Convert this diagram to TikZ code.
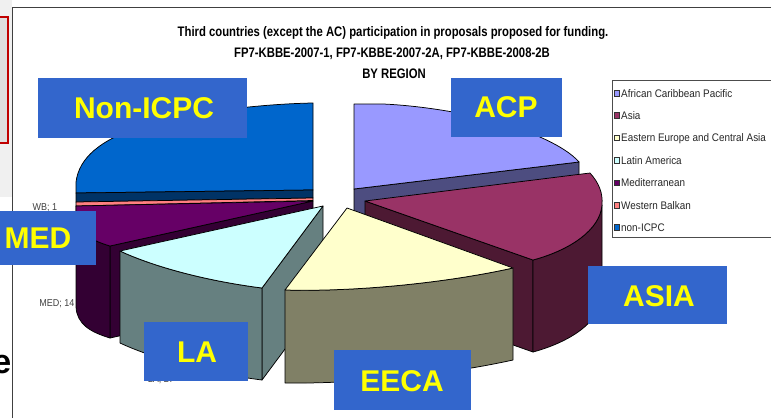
\documentclass[tikz,border=0pt]{standalone}
\usepackage{fontspec}
\setmainfont{Liberation Sans}
\newfontfamily\titlefont[FakeStretch=0.82]{Liberation Sans}
\newfontfamily\legfont[FakeStretch=0.9]{Liberation Sans}
\definecolor{lblblue}{HTML}{3366CC}
\definecolor{lblyellow}{HTML}{FFFF00}
\definecolor{acptop}{HTML}{9999FF}
\definecolor{acpside}{HTML}{4D4D80}
\definecolor{asiatop}{HTML}{993366}
\definecolor{asiaside}{HTML}{4D1933}
\definecolor{eecatop}{HTML}{FFFFCC}
\definecolor{eecaside}{HTML}{808066}
\definecolor{latop}{HTML}{CCFFFF}
\definecolor{laside}{HTML}{668080}
\definecolor{medtop}{HTML}{660066}
\definecolor{medside}{HTML}{330033}
\definecolor{wbtop}{HTML}{FF8080}
\definecolor{nontop}{HTML}{0066CC}
\definecolor{nonside}{HTML}{003366}
\definecolor{redframe}{HTML}{C00000}
\tikzset{
  face/.style={draw=black, line width=0.75pt, line join=round, fill=#1},
  lblbox/.style={fill=lblblue},
  lbltext/.style={text=lblyellow, font=\bfseries\fontsize{30}{30}\selectfont, inner sep=0pt},
  legtext/.style={font=\legfont\fontsize{11}{11}\selectfont, text=black!85, anchor=base west, inner sep=0pt},
  legmark/.style={draw=black!80, line width=0.5pt, fill=#1, minimum size=5.5pt, inner sep=0pt},
  datalbl/.style={font=\legfont\fontsize{10}{10}\selectfont, text=black!75, inner sep=0pt},
  titletext/.style={font=\titlefont\bfseries\fontsize{13.8}{14}\selectfont, anchor=base, inner sep=0pt},
}
\begin{document}
\begin{tikzpicture}[x=1pt,y=-1pt]
\useasboundingbox (0,0) rectangle (771,418);
\clip (0,0) rectangle (771,418);
% background pieces on the left
\fill[gray!12] (0,0) rectangle (12,197);
\draw[redframe, line width=2.5pt, fill=gray!25] (-6,17) rectangle (8,143);
\node[font=\bfseries\fontsize{34}{34}\selectfont, anchor=base east, inner sep=0pt] (frag) at (11.5,373) {e};
% chart frame
\draw[black!75, line width=1pt] (12,418) -- (12,7) -- (771,7);
% title
\node[titletext] (t1) at (393,36.5) {Third countries (except the AC) participation in proposals proposed for funding.};
\node[titletext] (t2) at (392,57.5) {FP7-KBBE-2007-1, FP7-KBBE-2007-2A, FP7-KBBE-2008-2B};
\node[titletext] (t3) at (394,78.5) {BY REGION};
% non-ICPC
\path[face=nontop] (313,103) -- (313,190) -- (76,193) -- (76,182) .. controls (79,158) and (100,140) .. (140,127) .. controls (190,112) and (260,104) .. (313,103) -- cycle;
\path[face=nonside] (76,193) -- (313,190) -- (313,198) -- (76,202) -- cycle;
% Western Balkan
\path[face=wbtop] (76,202) -- (313,198) -- (313,200.5) -- (76,206) -- cycle;
% Mediterranean
\path[face=medside] (110,246) -- (313,201) -- (313,293) -- (110,338) -- cycle;
\path[face=medside] (76,206) -- (76,215) .. controls (77,232) and (90,240) .. (110,246) -- (110,338) .. controls (90,332) and (77,324) .. (76,307) -- cycle;
\path[face=medtop] (76,206) -- (313,201) -- (110,246) .. controls (90,240) and (77,232) .. (76,215) -- cycle;
% ACP
\path[face=acpside] (354,189) -- (579,162) -- (579,200) -- (354,227) -- cycle;
\path[face=acptop] (354,189) -- (354,104) -- (383,104) .. controls (430,106) and (500,118) .. (540,137) .. controls (560,146) and (572,154) .. (579,162) -- cycle;
% Asia
\path[face=asiaside] (365,201) -- (533,260) -- (533,352) -- (365,293) -- cycle;
\path[face=asiaside] (602,205) .. controls (600,230) and (570,250) .. (533,260) -- (533,352) .. controls (570,342) and (600,322) .. (602,297) -- cycle;
\path[face=asiatop] (365,201) -- (590,173) .. controls (599,183) and (603,193) .. (602,205) .. controls (600,230) and (570,250) .. (533,260) -- cycle;
% Latin America
\path[face=laside] (262,288) -- (323,206) -- (323,298) -- (262,380) -- cycle;
\path[face=laside] (120,251) .. controls (150,265) and (200,280) .. (262,288) -- (262,380) .. controls (200,372) and (150,357) .. (120,343) -- cycle;
\path[face=latop] (323,206) -- (120,251) .. controls (150,265) and (200,280) .. (262,288) -- cycle;
% EECA
\path[face=eecaside] (285,290) .. controls (360,292) and (450,282) .. (513,268) -- (513,360) .. controls (450,374) and (360,384) .. (285,383) -- cycle;
\path[face=eecatop] (347,208) -- (513,268) .. controls (450,282) and (360,292) .. (285,290) -- cycle;
% data labels
\node[datalbl] (dwb) at (45,208) {WB; 1};
\node[datalbl] (dmed) at (57,304) {MED; 14};
\node[datalbl] (dla) at (161,380) {LA; 27};
% region label boxes
\fill[lblbox] (38,78) rectangle (247,138);
\node[lbltext] (lnon) at (144,108) {Non-ICPC};
\fill[lblbox] (451,78) rectangle (562,137);
\node[lbltext] (lacp) at (506,107.5) {ACP};
\fill[lblbox] (0,211) rectangle (96,265);
\node[lbltext] (lmed) at (38,238) {MED};
\fill[lblbox] (588,266) rectangle (727,324);
\node[lbltext] (lasia) at (659,296) {ASIA};
\fill[lblbox] (144,322) rectangle (248,381);
\node[lbltext] (lla) at (197,352) {LA};
\fill[lblbox] (334,350) rectangle (471,410);
\node[lbltext] (leeca) at (402,381) {EECA};
% legend
\draw[black!70, line width=0.7pt] (771,80) -- (612,80) -- (612,237) -- (771,237);
\foreach \c/\t [count=\i from 0] in {acptop/African Caribbean Pacific, asiatop/Asia, eecatop/Eastern Europe and Central Asia, latop/Latin America, medtop/Mediterranean, wbtop/Western Balkan, nontop/non-ICPC}{
  \node[legmark=\c] (lm\i) at (616.5,93+22.4*\i) {};
  \node[legtext] (lt\i) at (621,93+22.4*\i+4) {\t};
}
\end{tikzpicture}
\end{document}
